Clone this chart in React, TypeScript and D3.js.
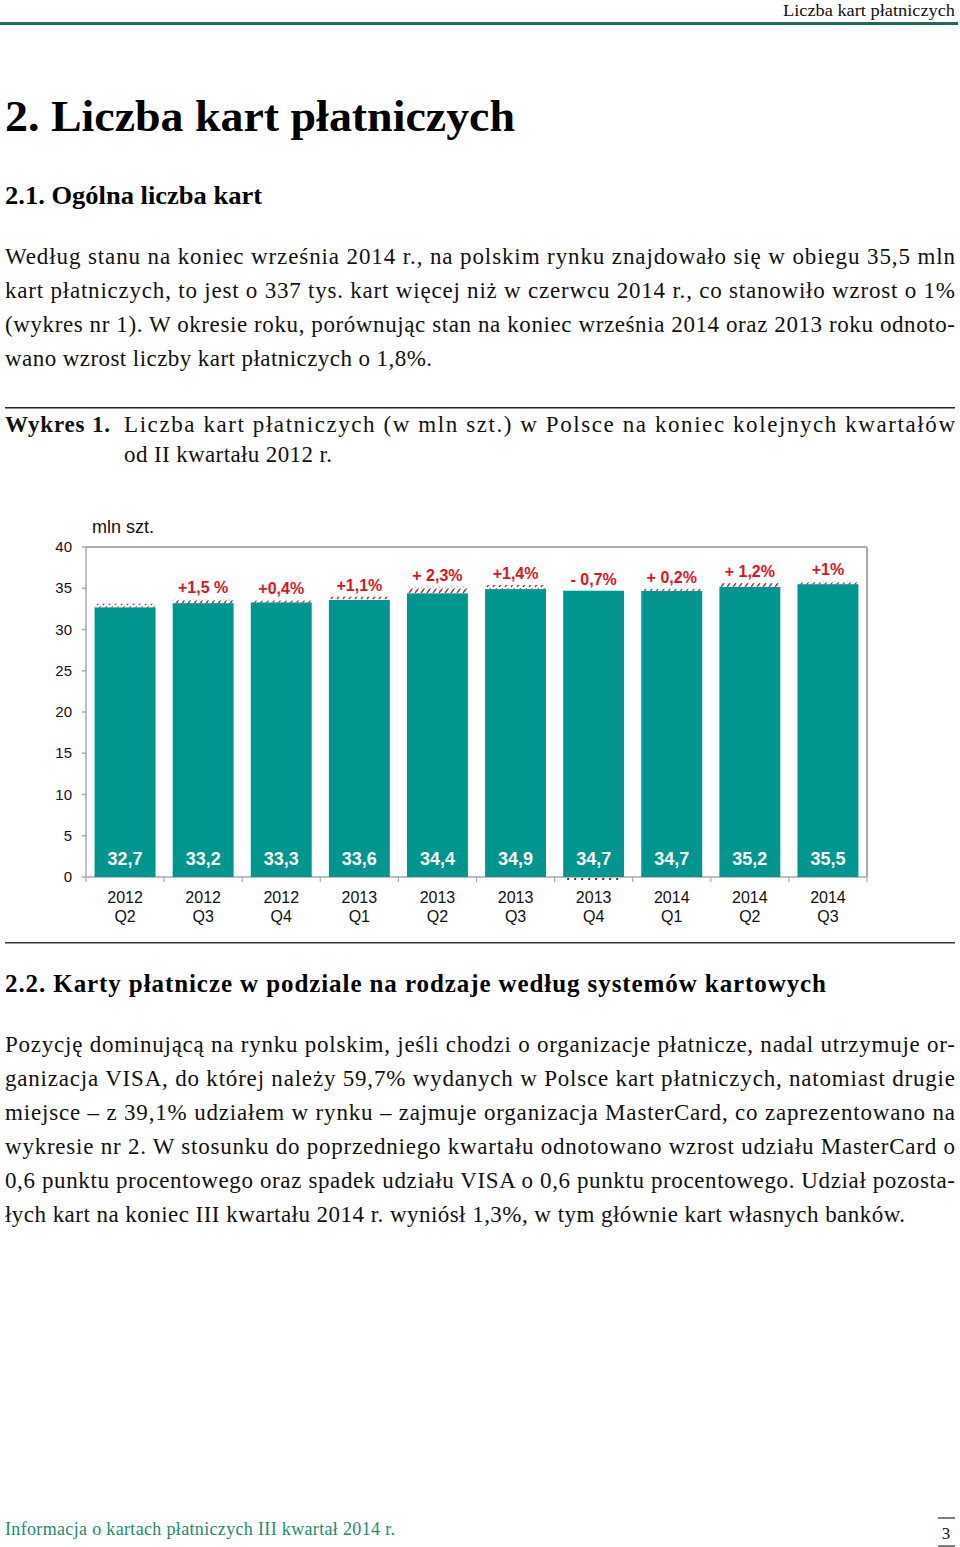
import React from "react";
import * as d3 from "d3";

const categories = ["2012|Q2", "2012|Q3", "2012|Q4", "2013|Q1", "2013|Q2", "2013|Q3", "2013|Q4", "2014|Q1", "2014|Q2", "2014|Q3"];
const cardsMln = [32.7, 33.2, 33.3, 33.6, 34.4, 34.9, 34.7, 34.7, 35.2, 35.5];
const valueLabels = ["32,7", "33,2", "33,3", "33,6", "34,4", "34,9", "34,7", "34,7", "35,2", "35,5"];
const growthPct = [1.3, 1.5, 0.4, 1.1, 2.3, 1.4, -0.7, 0.2, 1.2, 1.0];
const growthLabels = ["", "+1,5 %", "+0,4%", "+1,1%", "+ 2,3%", "+1,4%", "- 0,7%", "+ 0,2%", "+ 1,2%", "+1%"];
const yTicks = [0, 5, 10, 15, 20, 25, 30, 35, 40];

const para1 = [
  "Według stanu na koniec września 2014 r., na polskim rynku znajdowało się w obiegu 35,5 mln",
  "kart płatniczych, to jest o 337 tys. kart więcej niż w czerwcu 2014 r., co stanowiło wzrost o 1%",
  "(wykres nr 1). W okresie roku, porównując stan na koniec września 2014 oraz 2013 roku odnoto-",
  "wano wzrost liczby kart płatniczych o 1,8%.",
];
const para2 = [
  "Pozycję dominującą na rynku polskim, jeśli chodzi o organizacje płatnicze, nadal utrzymuje or-",
  "ganizacja VISA, do której należy 59,7% wydanych w Polsce kart płatniczych, natomiast drugie",
  "miejsce – z 39,1% udziałem w rynku – zajmuje organizacja MasterCard, co zaprezentowano na",
  "wykresie nr 2. W stosunku do poprzedniego kwartału odnotowano wzrost udziału MasterCard o",
  "0,6 punktu procentowego oraz spadek udziału VISA o 0,6 punktu procentowego. Udział pozosta-",
  "łych kart na koniec III kwartału 2014 r. wyniósł 1,3%, w tym głównie kart własnych banków.",
];

const SERIF = "'Liberation Serif', 'Times New Roman', serif";
const SANS = "'Liberation Sans', Arial, sans-serif";
const TEAL = "#00958f";
const RED = "#e0141e";

export default function App() {
  const left = 86, right = 867, top = 547, bottom = 877;
  const x = d3.scaleBand<string>().domain(categories).range([left, right]).paddingInner(0.22).paddingOuter(0.11);
  const y = d3.scaleLinear().domain([0, 40]).range([bottom, top]);
  const bw = x.bandwidth();
  const boundaries = d3.range(categories.length + 1).map((i) => left + i * (right - left) / categories.length);

  return (
    <svg width={960} height={1547} style={{ position: "absolute", left: 0, top: 0, background: "#fff" }}>
      <defs>
        <pattern id="hatch" width="6" height="6" patternUnits="userSpaceOnUse">
          <rect width="6" height="6" fill="#fff" />
          <line x1="1" y1="5" x2="4" y2="1" stroke={RED} strokeWidth="1.3" />
          <line x1="4" y1="1" x2="5" y2="0" stroke="#888" strokeWidth="1" />
        </pattern>
      </defs>

      {/* header */}
      <text x={955} y={16} textAnchor="end" fontFamily={SERIF} fontSize={17} fill="#111" textLength={172} lengthAdjust="spacingAndGlyphs">Liczba kart płatniczych</text>
      <rect x={0} y={22} width={958} height={3} fill="#1f6b5c" />

      <text x={5} y={131} fontFamily={SERIF} fontSize={45} fontWeight="bold" fill="#000" textLength={510} lengthAdjust="spacingAndGlyphs">2. Liczba kart płatniczych</text>
      <text x={5} y={204} fontFamily={SERIF} fontSize={25} fontWeight="bold" fill="#000" textLength={257} lengthAdjust="spacingAndGlyphs">2.1. Ogólna liczba kart</text>

      {para1.map((line, i) => (
        <text key={i} x={5} y={264 + i * 34} fontFamily={SERIF} fontSize={23} fill="#111"
          textLength={i < para1.length - 1 ? 950 : 427} lengthAdjust="spacing">{line}</text>
      ))}

      <rect x={5} y={407} width={950} height={1.5} fill="#222" />
      <text x={5} y={432} fontFamily={SERIF} fontSize={23} fontWeight="bold" fill="#111" textLength={105} lengthAdjust="spacing">Wykres 1.</text>
      <text x={124} y={432} fontFamily={SERIF} fontSize={23} fill="#111" textLength={831} lengthAdjust="spacing">Liczba kart płatniczych (w mln szt.) w Polsce na koniec kolejnych kwartałów</text>
      <text x={124} y={462} fontFamily={SERIF} fontSize={23} fill="#111" textLength={208} lengthAdjust="spacing">od II kwartału 2012 r.</text>

      {/* chart */}
      <text x={92} y={533} fontFamily={SANS} fontSize={18} fill="#111">mln szt.</text>
      <g stroke="#aaa" fill="none">
        <line x1={left} y1={top} x2={right} y2={top} strokeWidth={2} />
        <line x1={right} y1={top} x2={right} y2={bottom} strokeWidth={2} />
        <line x1={left} y1={top} x2={left} y2={bottom} strokeWidth={1.5} />
        <line x1={left} y1={bottom} x2={right} y2={bottom} strokeWidth={1.5} />
        {yTicks.map((t) => (
          <line key={t} x1={left - 4} y1={y(t)} x2={left} y2={y(t)} strokeWidth={1.5} />
        ))}
        {boundaries.map((b, i) => (
          <line key={i} x1={b} y1={bottom} x2={b} y2={bottom + 5} strokeWidth={1.2} />
        ))}
      </g>
      {yTicks.map((t) => (
        <text key={t} x={72} y={y(t) + 5} textAnchor="end" fontFamily={SANS} fontSize={15} fill="#111">{t}</text>
      ))}

      {categories.map((c, i) => {
        const bx = x(c)!;
        const v = cardsMln[i];
        const g = growthPct[i];
        const hatchH = g > 0 ? Math.max(2, y(0) - y((v * g) / 100)) : 0;
        const topY = y(v);
        const [yr, q] = c.split("|");
        return (
          <g key={c}>
            <rect x={bx} y={topY} width={bw} height={bottom - topY} fill={TEAL} />
            {g > 0 && <rect x={bx} y={topY - hatchH} width={bw} height={hatchH} fill="url(#hatch)" />}
            {g < 0 && <line x1={bx + 4} y1={bottom + 2} x2={bx + bw - 4} y2={bottom + 2} stroke="#6a2a2a" strokeWidth={2} strokeDasharray="2,5" />}
            {growthLabels[i] && (
              <text x={bx + bw / 2} y={topY - hatchH - 6} textAnchor="middle" fontFamily={SANS} fontSize={16} fontWeight="bold" fill={RED}>{growthLabels[i]}</text>
            )}
            <text x={bx + bw / 2} y={865} textAnchor="middle" fontFamily={SANS} fontSize={18} fontWeight="bold" fill="#fff">{valueLabels[i]}</text>
            <text x={bx + bw / 2} y={903} textAnchor="middle" fontFamily={SANS} fontSize={16} fill="#111">{yr}</text>
            <text x={bx + bw / 2} y={922} textAnchor="middle" fontFamily={SANS} fontSize={16} fill="#111">{q}</text>
          </g>
        );
      })}

      <rect x={5} y={942} width={950} height={1.5} fill="#333" />

      <text x={5} y={992} fontFamily={SERIF} fontSize={25} fontWeight="bold" fill="#000" textLength={821} lengthAdjust="spacing">2.2. Karty płatnicze w podziale na rodzaje według systemów kartowych</text>

      {para2.map((line, i) => (
        <text key={i} x={5} y={1052 + i * 34} fontFamily={SERIF} fontSize={23} fill="#111"
          textLength={i < para2.length - 1 ? 950 : 900} lengthAdjust="spacing">{line}</text>
      ))}

      {/* footer */}
      <text x={5} y={1535} fontFamily={SERIF} fontSize={18} fill="#1f8a70" textLength={390} lengthAdjust="spacing">Informacja o kartach płatniczych  III  kwartał  2014 r.</text>
      <line x1={938} y1={1518} x2={955} y2={1518} stroke="#555" strokeWidth={1.5} />
      <text x={946} y={1539} textAnchor="middle" fontFamily={SERIF} fontSize={17} fill="#111">3</text>
      <line x1={938} y1={1546} x2={955} y2={1546} stroke="#555" strokeWidth={1.5} />
    </svg>
  );
}
